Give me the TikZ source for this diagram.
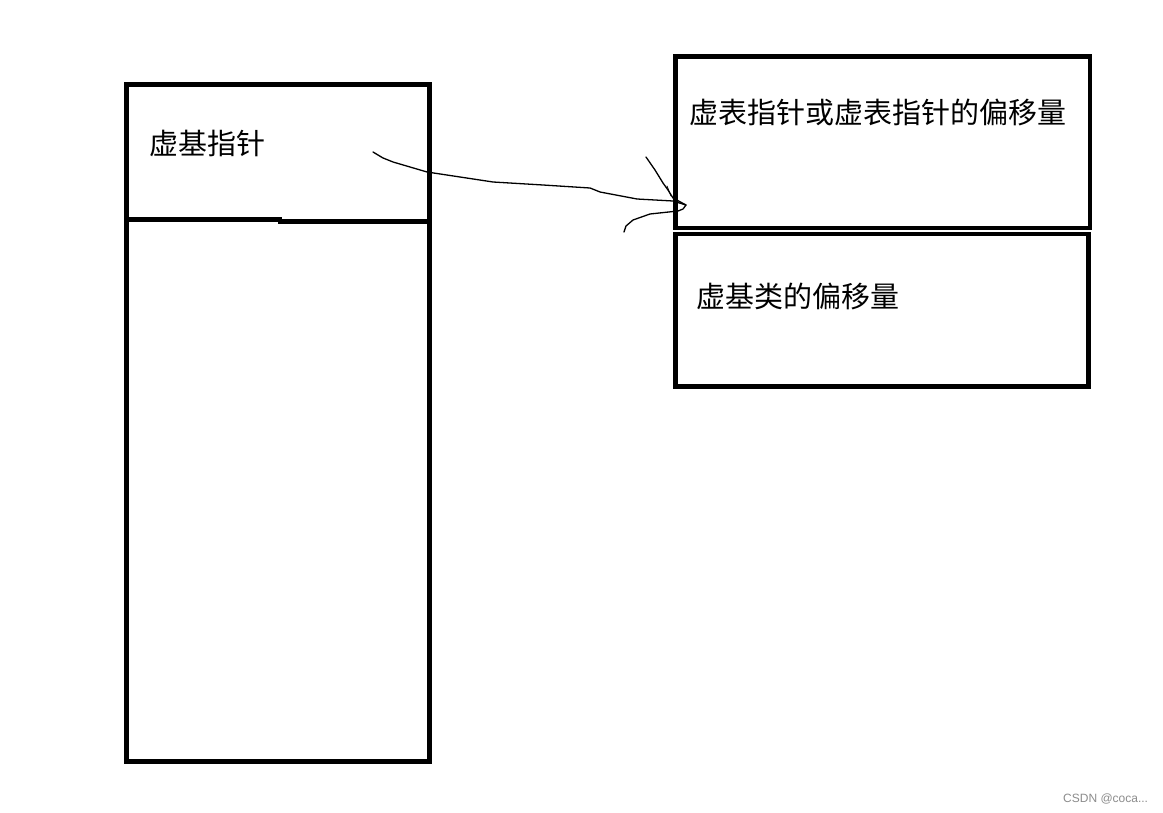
\documentclass[tikz,border=0pt]{standalone}
\usepackage{fontspec}
\newfontfamily\cjk{Noto Sans CJK SC}
\setsansfont{Liberation Sans}
\begin{document}
\begin{tikzpicture}[x=1pt,y=-1pt,
  box/.style={draw=black,line width=4.5pt,rectangle,inner sep=0pt,fill=none},
  lbl/.style={font=\cjk\fontsize{29}{32}\selectfont,inner sep=0pt,anchor=west},
  pen/.style={draw=black,line width=1.3pt,line cap=round,line join=round}]
\useasboundingbox[fill=white] (0,0) rectangle (1163,813);
% left block
\node[box,minimum width=303.4pt,minimum height=677.2pt] (L) at (278,423.1) {};
\draw[line width=4.5pt] (126.3,219.5) -- (280,219.5) -- (280,221.5) -- (429.7,221.5);
\node[lbl] (ptr) at (149,143.5) {虚基指针};
% right blocks
\node[box,minimum width=414.3pt,minimum height=171.7pt] (T) at (882.85,142.15) {};
\node[box,minimum width=412.6pt,minimum height=152.3pt] (B) at (882,310.15) {};
\node[lbl] (tlab) at (689.5,112) {虚表指针或虚表指针的偏移量};
\node[lbl] (blab) at (696,296.5) {虚基类的偏移量};
% hand-drawn arrow
\coordinate (s) at (373,152);
\coordinate (tip) at (686,205);
\draw[pen] (s) -- (383,158) -- (393,162) -- (410,167) -- (427,172) -- (460,177) -- (493,182)
  -- (543,185) -- (590,188) -- (600,192) -- (637,199) -- (673,201) -- (tip)
  -- (683,209) -- (678,211) -- (650,214) -- (633,220) -- (626,226) -- (624,232);
\draw[pen] (646,157) -- (655,170) -- (663,183) -- (668,190) -- (673,198) -- (tip);
\draw[pen,line width=0.8pt] (667,186) -- (671,196);
% watermark
\node[font=\sffamily\fontsize{12}{13}\selectfont,text=black!45,inner sep=0pt,anchor=west] (wm) at (1063,799) {CSDN @coca...};
\end{tikzpicture}
\end{document}
